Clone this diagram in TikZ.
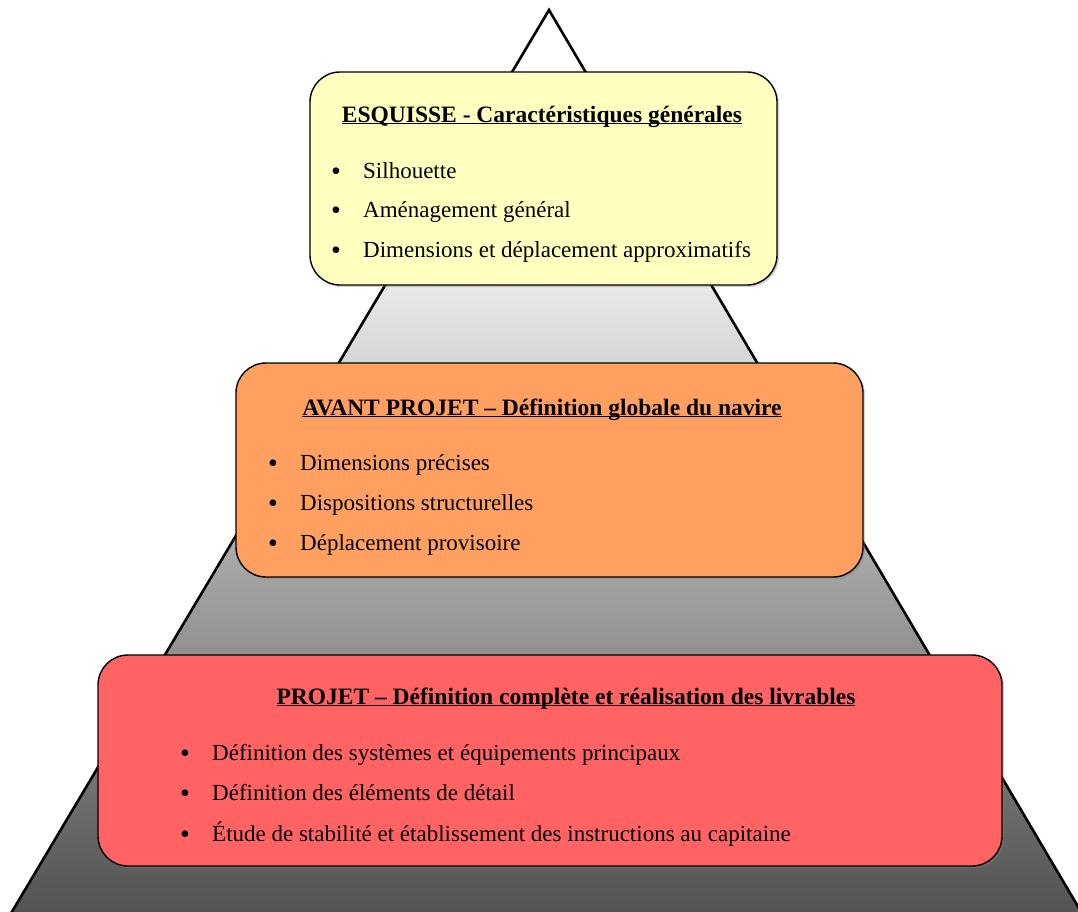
\documentclass[tikz,border=0pt]{standalone}
\usepackage{fontspec}
\setmainfont{Liberation Serif}
\usetikzlibrary{shadows,positioning}
\definecolor{sketch}{RGB}{255,255,192}
\definecolor{draft}{RGB}{255,160,96}
\definecolor{final}{RGB}{255,99,99}
\definecolor{slate}{RGB}{82,82,82}
\pgfdeclareverticalshading{pyramid}{100bp}{color(0bp)=(slate); color(25bp)=(slate);
  color(65bp)=(white); color(100bp)=(white)}
\newcommand\headline[1]{\underline{\smash{#1}}}
\newcommand\bulletmark{\makebox[32pt][l]{\raisebox{-2pt}{\fontsize{28}{28}\selectfont\textbullet}}}
\tikzset{
  stage/.style={fill=#1,draw=black,line width=1.4pt,rounded corners=30pt,
    drop shadow={opacity=0.35,shadow xshift=2pt,shadow yshift=-2pt}},
  stage/.default=sketch,
  heading/.style={anchor=base,inner sep=0pt,font=\fontsize{23.5}{27}\selectfont\bfseries},
  item/.style={anchor=base west,inner sep=0pt,font=\fontsize{23}{27}\selectfont},
}
\begin{document}
\begin{tikzpicture}[x=1pt,y=-1pt]
    \useasboundingbox (0,0) rectangle (1078,911);
    % pyramid behind the three stages
    \shade[shading=pyramid,draw=black,line width=2.6pt]
      (549,10) -- (10,915) -- (1083,915) -- cycle;
    % stages
    \node[stage=sketch,minimum width=467pt,minimum height=213pt] (esquisse) at (543.5,178.5) {};
    \node[stage=draft,minimum width=627pt,minimum height=214pt] (avant) at (549.5,470) {};
    \node[stage=final,minimum width=904pt,minimum height=211pt] (projet) at (550,760.5) {};
    % titles
    \node[heading] (esquisse-title) at (542,122) {\headline{ESQUISSE - Caractéristiques générales}};
    \node[heading] (avant-title) at (542,415) {\headline{AVANT PROJET -- Définition globale du navire}};
    \node[heading] (projet-title) at (566,704) {\headline{PROJET -- Définition complète et réalisation des livrables}};
    % bullet lists
    \foreach \t [count=\k] in {Silhouette,Aménagement général,Dimensions et déplacement approximatifs}
      \node[item] (esquisse-\k) at (331,{178+39.5*(\k-1)}) {\bulletmark\t};
    \foreach \t [count=\k] in {Dimensions précises,Dispositions structurelles,Déplacement provisoire}
      \node[item] (avant-\k) at (268,{470+40*(\k-1)}) {\bulletmark\t};
    \foreach \t [count=\k] in {Définition des systèmes et équipements principaux,Définition des éléments de détail,Étude de stabilité et établissement des instructions au capitaine}
      \node[item] (projet-\k) at (178,{760+40.5*(\k-1)}) {\hspace{2pt}\bulletmark\t};
\end{tikzpicture}
\end{document}
